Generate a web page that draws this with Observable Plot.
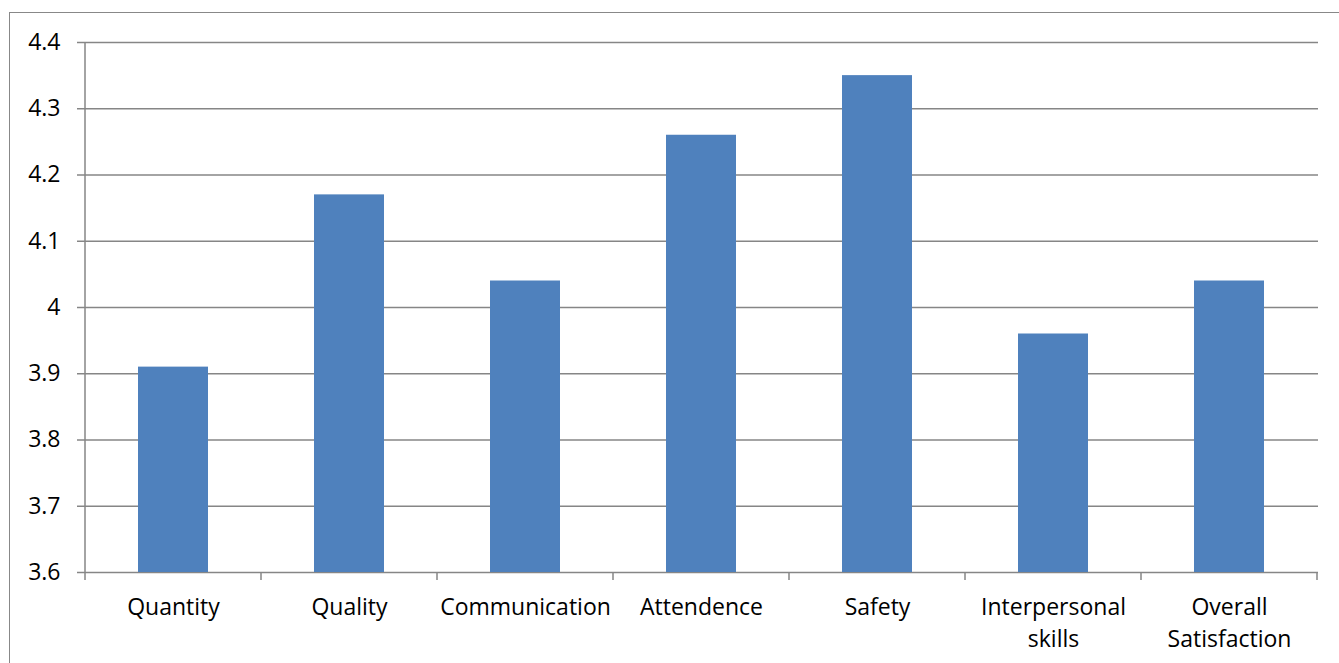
<!DOCTYPE html>
<html>
<head>
<meta charset="utf-8">
<script src="https://cdn.jsdelivr.net/npm/d3@7"></script>
<script src="https://cdn.jsdelivr.net/npm/@observablehq/plot@0.6"></script>
<style>
  html, body { margin: 0; padding: 0; background: #fff; overflow: hidden; }
  #wrap { position: relative; width: 1339px; height: 663px; }
  #border { position: absolute; left: 9px; top: 12px; width: 2000px; height: 2000px;
            border-left: 1.5px solid #888; border-top: 1.5px solid #888; box-sizing: border-box; }
  #chart { position: absolute; left: 0; top: 0; }
</style>
</head>
<body>
<div id="wrap"><div id="border"></div><div id="chart"></div></div>
<script>
// Survey ratings by category
const categories = ["Quantity", "Quality", "Communication", "Attendence", "Safety", "Interpersonal skills", "Overall Satisfaction"];
const labels = ["Quantity", "Quality", "Communication", "Attendence", "Safety", "Interpersonal\nskills", "Overall\nSatisfaction"];
const scores = [3.91, 4.17, 4.04, 4.26, 4.35, 3.96, 4.04];
const yTicks = [3.6, 3.7, 3.8, 3.9, 4.0, 4.1, 4.2, 4.3, 4.4];

const data = categories.map((c, i) => ({category: c, label: labels[i], score: scores[i]}));
const gray = "#868686";
const font = "'Open Sans', sans-serif";
const fs = 23;

// category boundary ticks below the x axis
function boundaryTicks(index, scales) {
  const x = scales.x, y = scales.y;
  const step = x(categories[1]) - x(categories[0]);
  const pad = (step - x.bandwidth()) / 2;
  const xs = categories.map(c => x(c) - pad);
  xs.push(x(categories[categories.length - 1]) + x.bandwidth() + pad);
  const y0 = y(yTicks[0]);
  const g = d3.create("svg:g").attr("stroke", gray).attr("stroke-width", 1.5);
  for (const v of xs) g.append("line").attr("x1", v).attr("x2", v).attr("y1", y0).attr("y2", y0 + 8);
  return g.node();
}

// vertical value axis line
function valueAxisLine(index, scales, values, dims) {
  const g = d3.create("svg:g").attr("stroke", gray).attr("stroke-width", 1.5);
  g.append("line").attr("x1", dims.marginLeft).attr("x2", dims.marginLeft)
    .attr("y1", scales.y(yTicks[yTicks.length - 1])).attr("y2", scales.y(yTicks[0]));
  return g.node();
}

const chart = Plot.plot({
  width: 1339,
  height: 663,
  marginLeft: 85,
  marginRight: 21,
  marginTop: 42,
  marginBottom: 91,
  style: {fontFamily: font, fontSize: fs + "px", color: "#000", background: "transparent"},
  x: {domain: categories, paddingInner: 0.6, paddingOuter: 0.3, axis: null},
  y: {domain: [3.6, 4.4], axis: null},
  marks: [
    Plot.gridY(yTicks, {stroke: gray, strokeOpacity: 1, strokeWidth: 1.5}),
    Plot.barY(data, {x: "category", y1: () => 3.6, y2: "score", fill: "#4F81BD"}),
    Plot.axisY({ticks: yTicks, tickSize: 8, tickPadding: 17, stroke: gray, strokeWidth: 1.5,
                tickFormat: d => String(+d.toFixed(1)), fontSize: fs, label: null, fill: "#000"}),
    Plot.text(data, {x: "category", y: () => 3.6, text: "label", dy: 19, lineAnchor: "top",
                     lineHeight: 1.41, fontSize: fs, fill: "#000"}),
    boundaryTicks,
    valueAxisLine
  ]
});
document.getElementById("chart").appendChild(chart);
</script>
</body>
</html>
